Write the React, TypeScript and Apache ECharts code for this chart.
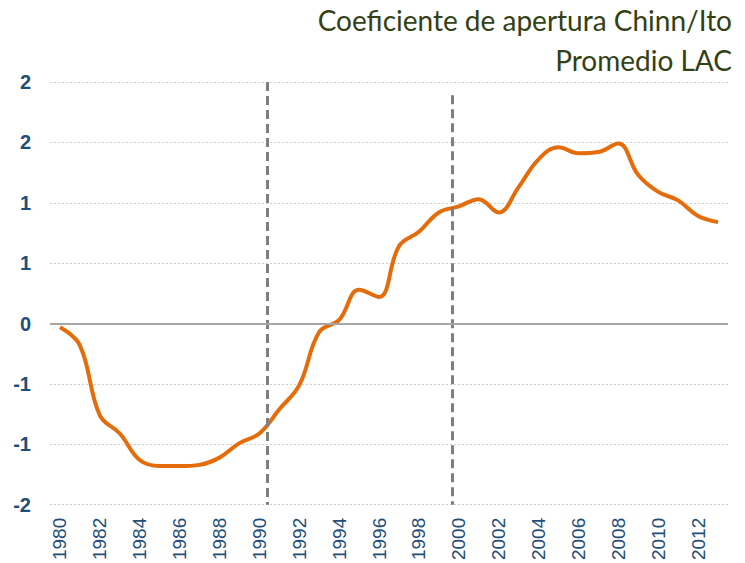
import React, { useEffect, useRef } from "react";
import * as echarts from "echarts";

const years: number[] = [
  1980, 1981, 1982, 1983, 1984, 1985, 1986, 1987, 1988, 1989,
  1990, 1991, 1992, 1993, 1994, 1995, 1996, 1997, 1998, 1999,
  2000, 2001, 2002, 2003, 2004, 2005, 2006, 2007, 2008, 2009,
  2010, 2011, 2012, 2013,
];
const values: number[] = [
  -0.03, -0.18, -0.76, -0.91, -1.13, -1.18, -1.18, -1.17, -1.11, -0.99,
  -0.91, -0.71, -0.51, -0.07, 0.03, 0.28, 0.22, 0.64, 0.76, 0.92,
  0.97, 1.03, 0.92, 1.13, 1.36, 1.46, 1.41, 1.42, 1.49, 1.23,
  1.09, 1.02, 0.89, 0.84,
];
const yearLabels: number[] = [
  1980, 1982, 1984, 1986, 1988, 1990, 1992, 1994, 1996, 1998,
  2000, 2002, 2004, 2006, 2008, 2010, 2012,
];
const markerYears: number[] = [1990.4, 1999.65];
const markerTops: number[] = [2.0, 1.89];
const titleLines: string[] = ["Coeficiente de apertura Chinn/Ito", "Promedio LAC"];

const roundExcel = (v: number) => {
  const r = Math.sign(v) * Math.round(Math.abs(v));
  return r === 0 ? "0" : String(r);
};

export default function App() {
  const ref = useRef<HTMLDivElement>(null);
  useEffect(() => {
    if (!ref.current) return;
    const chart = echarts.init(ref.current, null, { renderer: "svg" });
    const labelBlue = "#1F4E79";
    chart.setOption({
      animation: false,
      backgroundColor: "#ffffff",
      graphic: titleLines.map((t, i) => ({
        type: "text",
        x: 732,
        y: 20 + i * 40,
        style: {
          text: t,
          fill: "#333F14",
          font: "28px Lato",
          textAlign: "right",
          textVerticalAlign: "middle",
        },
      })),
      grid: { left: 50, right: 17, top: 82, bottom: 58, containLabel: false },
      xAxis: {
        type: "value",
        min: 1979.5,
        max: 2013.5,
        splitLine: { show: false },
        axisLine: { show: false },
        axisTick: { show: false },
        axisLabel: {
          customValues: yearLabels,
          rotate: 90,
          margin: 13,
          fontFamily: "Liberation Sans",
          fontSize: 19,
          color: labelBlue,
          formatter: (v: number) => String(v),
        },
      },
      yAxis: {
        type: "value",
        min: -1.5,
        max: 2.0,
        interval: 0.5,
        axisLine: { show: false },
        axisTick: { show: false },
        axisLabel: {
          margin: 19,
          fontFamily: "Liberation Sans",
          fontSize: 20,
          fontWeight: "bold",
          color: labelBlue,
          formatter: (v: number) => roundExcel(v),
        },
        splitLine: {
          show: true,
          lineStyle: { color: "#D0D0D0", type: [2, 2], width: 1 },
        },
      },
      series: [
        {
          type: "line",
          data: years.map((y, i) => [y, values[i]]),
          smooth: 0.4,
          symbol: "none",
          lineStyle: { color: "#E46C0A", width: 4 },
          z: 3,
          markLine: {
            silent: true,
            symbol: "none",
            label: { show: false },
            lineStyle: { color: "#7F7F7F", type: [9, 5], width: 3 },
            data: [
              ...markerYears.map((my, i) => [
                { coord: [my, markerTops[i]] },
                { coord: [my, -1.5] },
              ]),
              [
                { coord: [1979.5, 0] },
                { coord: [2013.5, 0], lineStyle: { color: "#A6A6A6", type: "solid", width: 2 } },
              ],
            ],
          },
        },
      ],
    });
    return () => chart.dispose();
  }, []);
  return <div ref={ref} style={{ width: 745, height: 563, position: "absolute", left: 0, top: 0 }} />;
}
